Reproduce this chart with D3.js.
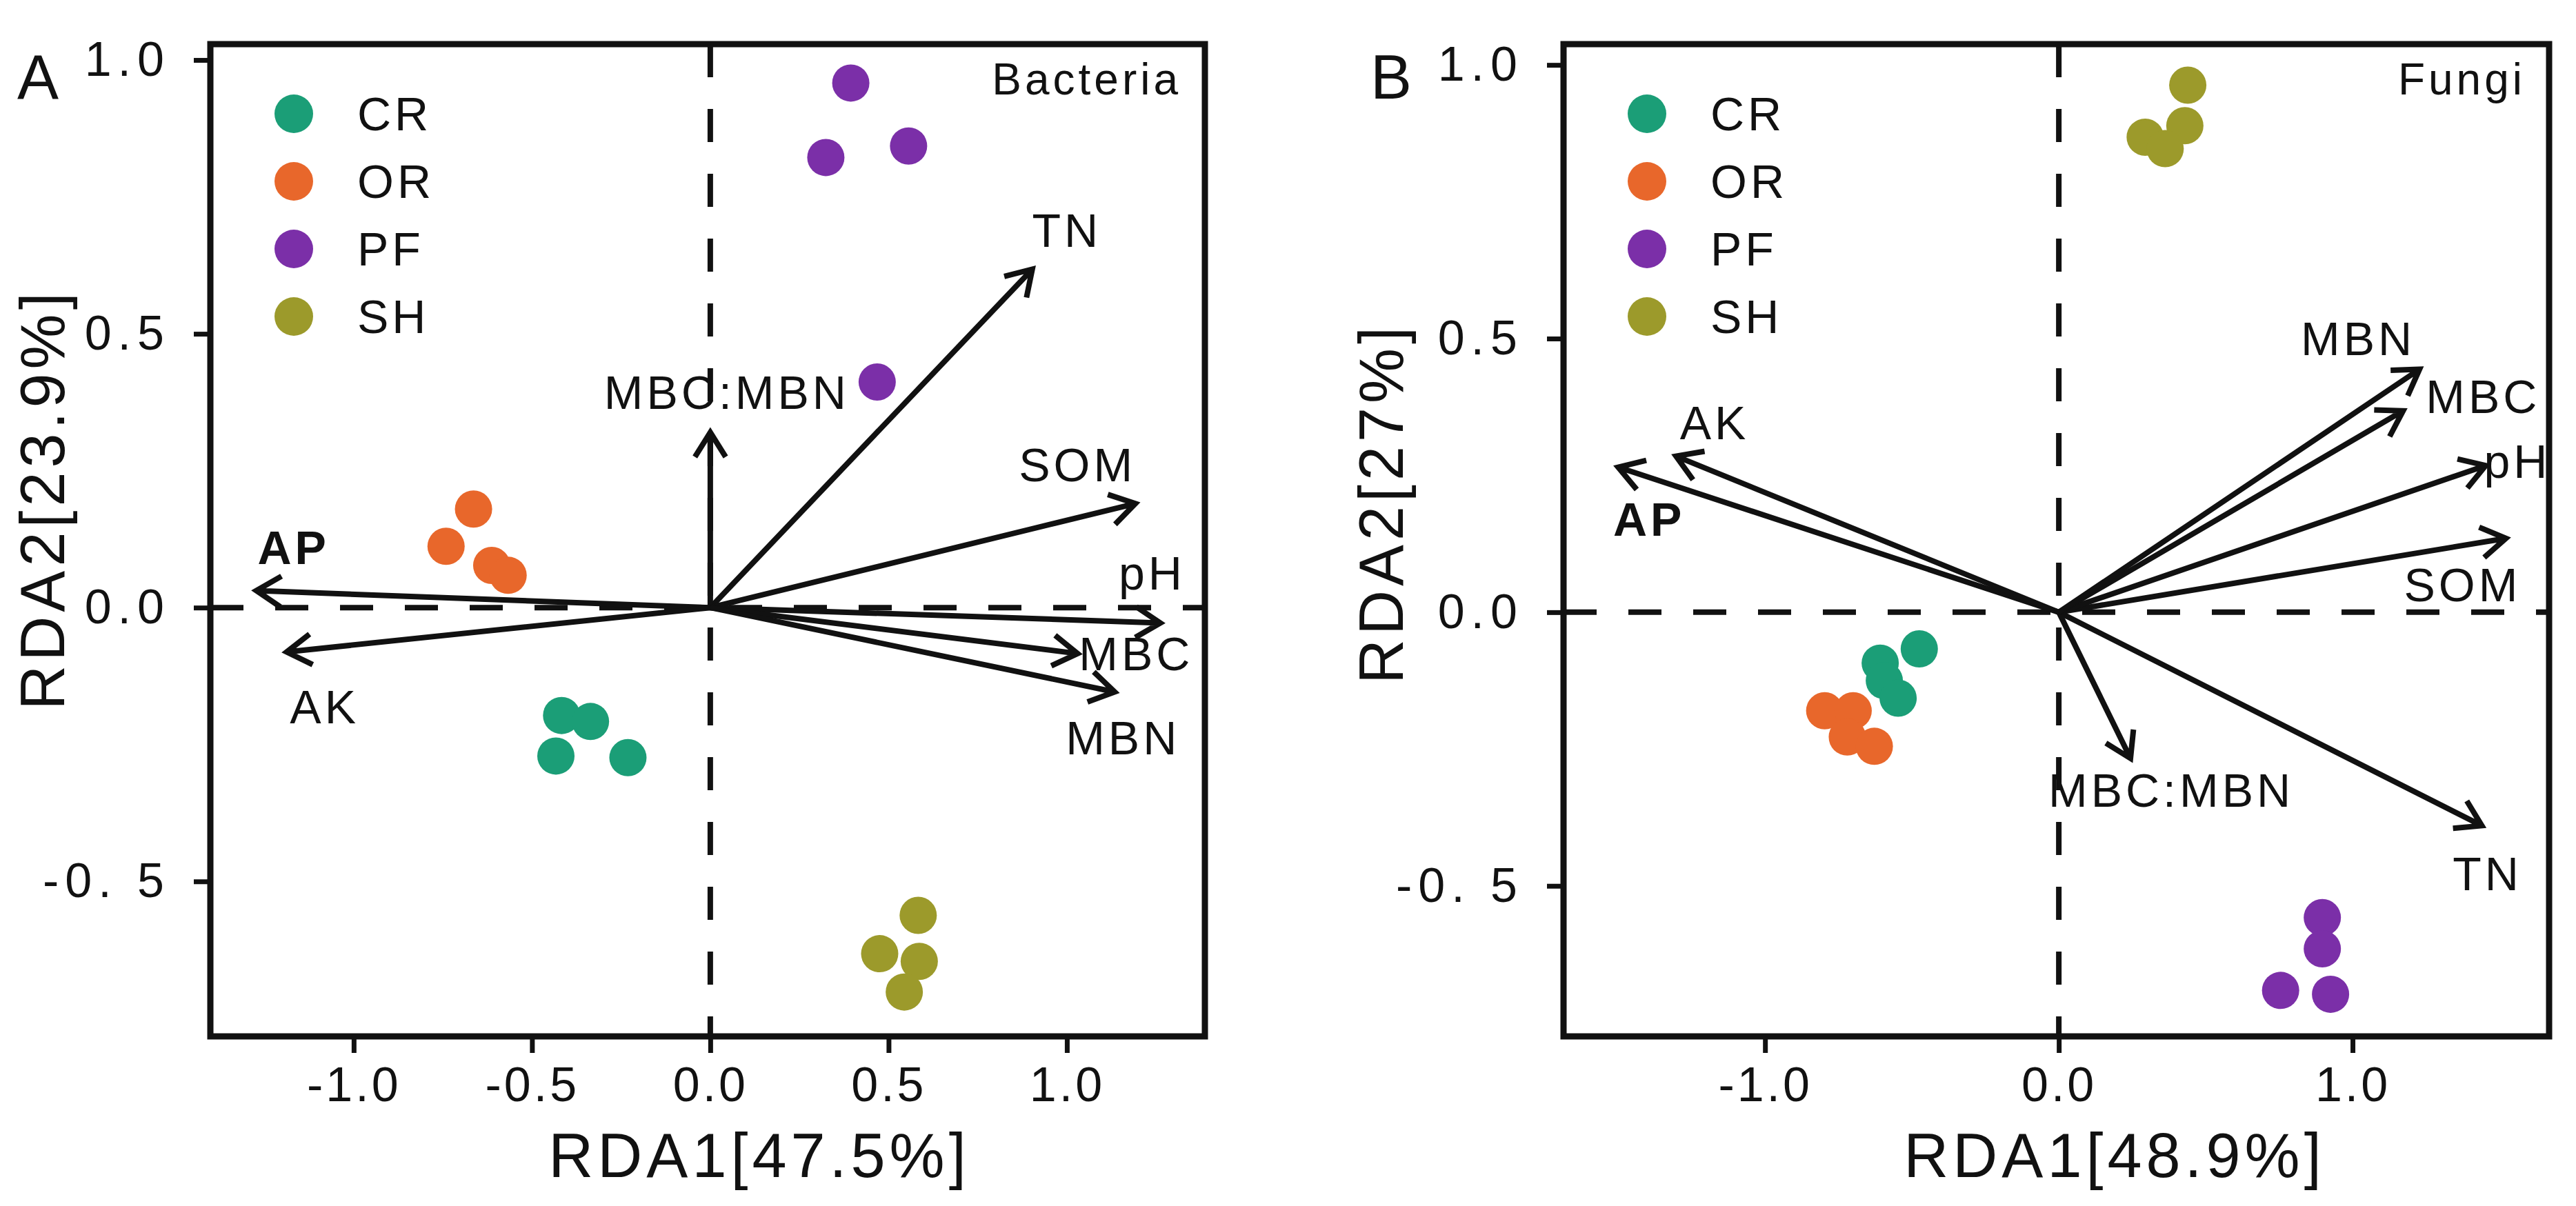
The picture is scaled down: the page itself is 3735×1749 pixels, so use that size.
<!DOCTYPE html>
<meta charset="utf-8">
<style>
  body { margin: 0; background: #fff; }
  text { font-family: "Liberation Sans", Arial, sans-serif; fill: #111; }
</style>
<svg width="3735" height="1749"></svg>
<script src="https://cdn.jsdelivr.net/npm/d3@7"></script>
<script>

    // ---- data ----
    var groups = ["CR", "OR", "PF", "SH"];
    var envNames = ["TN", "MBC:MBN", "SOM", "pH", "MBC", "MBN", "AP", "AK"];

    // bacteria (panel A) site scores
    var bacCR = [[-0.417, -0.197], [-0.336, -0.208], [-0.433, -0.271], [-0.231, -0.274]];
    var bacOR = [[-0.664, 0.180], [-0.741, 0.112], [-0.613, 0.077], [-0.567, 0.059]];
    var bacPF = [[0.394, 0.958], [0.324, 0.822], [0.556, 0.843], [0.468, 0.412]];
    var bacSH = [[0.583, -0.562], [0.475, -0.632], [0.586, -0.646], [0.544, -0.702]];
    // bacteria environmental arrows, same order as envNames
    var bacArrows = [[0.903, 0.618], [0, 0.32], [1.192, 0.19], [1.262, -0.028],
                     [1.03, -0.084], [1.134, -0.154], [-1.273, 0.031], [-1.188, -0.081]];

    // fungi (panel B) site scores
    var funCR = [[-0.475, -0.067], [-0.608, -0.093], [-0.594, -0.125], [-0.547, -0.157]];
    var funOR = [[-0.797, -0.180], [-0.700, -0.180], [-0.720, -0.228], [-0.628, -0.245]];
    var funPF = [[0.897, -0.558], [0.897, -0.615], [0.755, -0.691], [0.925, -0.698]];
    var funSH = [[0.439, 0.963], [0.429, 0.889], [0.294, 0.868], [0.362, 0.847]];
    var funArrows = [[1.44, -0.39], [0.244, -0.267], [1.522, 0.135], [1.453, 0.268],
                     [1.172, 0.368], [1.228, 0.444], [-1.5, 0.265], [-1.303, 0.285]];

    var xTicksA = [-1, -0.5, 0, 0.5, 1];
    var xTicksB = [-1, 0, 1];
    var yTicks = [-0.5, 0, 0.5, 1];

    var color = d3.scaleOrdinal()
        .domain(groups)
        .range(["#1b9e77", "#e8672b", "#7b2fa8", "#9c9a2b"]);

    var svg = d3.select("svg");

    // plain hyphen instead of d3's unicode minus
    function fmt(d) { return d.toFixed(1); }

    function drawPanel(p) {
        var x = d3.scaleLinear().domain(p.xDomain).range([p.left, p.right]);
        var y = d3.scaleLinear().domain(p.yDomain).range([p.bottom, p.top]);
        var g = svg.append("g");

        // zero lines
        g.append("line")
            .attr("x1", x(0)).attr("x2", x(0)).attr("y1", p.top).attr("y2", p.bottom)
            .attr("stroke", "#111").attr("stroke-width", 8).attr("stroke-dasharray", "48,46");
        g.append("line")
            .attr("x1", p.left).attr("x2", p.right).attr("y1", y(0)).attr("y2", y(0))
            .attr("stroke", "#111").attr("stroke-width", 8).attr("stroke-dasharray", "48,46");

        // axes
        var xAxis = g.append("g")
            .attr("transform", "translate(0," + p.bottom + ")")
            .call(d3.axisBottom(x).tickValues(p.xTicks).tickSize(24).tickSizeOuter(0)
                .tickFormat(fmt));
        xAxis.selectAll("text").attr("y", 94).attr("dy", null)
            .style("font-size", "70px").style("letter-spacing", "4px");
        var yAxis = g.append("g")
            .attr("transform", "translate(" + p.left + ",0)")
            .call(d3.axisLeft(y).tickValues(yTicks).tickSize(24).tickSizeOuter(0)
                .tickFormat(function(d) { return fmt(d).replace("-0.", "-0. "); }));
        yAxis.selectAll("text").attr("x", -58)
            .style("font-size", "70px").style("letter-spacing", "9px");
        svg.selectAll(".domain").remove();
        g.selectAll(".tick line").attr("stroke", "#111").attr("stroke-width", 7);
        g.selectAll(".tick text").attr("fill", "#111").attr("font-family", null);

        // frame
        g.append("rect")
            .attr("x", p.left).attr("y", p.top)
            .attr("width", p.right - p.left).attr("height", p.bottom - p.top)
            .attr("fill", "none").attr("stroke", "#111").attr("stroke-width", 9);

        // arrows
        var head = 42, ang = 32 * Math.PI / 180;
        p.arrows.forEach(function(a, i) {
            var x1 = x(a[0]), y1 = y(a[1]), x0 = x(0), y0 = y(0);
            var th = Math.atan2(y1 - y0, x1 - x0);
            var d = "M" + x0 + "," + y0 + "L" + x1 + "," + y1 +
                "M" + (x1 - head * Math.cos(th - ang)) + "," + (y1 - head * Math.sin(th - ang)) +
                "L" + x1 + "," + y1 +
                "L" + (x1 - head * Math.cos(th + ang)) + "," + (y1 - head * Math.sin(th + ang));
            g.append("path").attr("d", d)
                .attr("fill", "none").attr("stroke", "#111")
                .attr("stroke-width", 8).attr("stroke-linejoin", "miter");
            var off = p.labelOffsets[envNames[i]];
            g.append("text")
                .attr("x", x1 + off[0]).attr("y", y1 + off[1])
                .attr("text-anchor", "middle").attr("dominant-baseline", "central")
                .style("font-size", "68px").style("letter-spacing", "5px")
                .style("font-weight", envNames[i] === "AP" ? "bold" : "normal")
                .text(envNames[i]);
        });

        // sites
        groups.forEach(function(gr, k) {
            g.selectAll(null).data(p.sites[k]).enter().append("circle")
                .attr("cx", function(d) { return x(d[0]); })
                .attr("cy", function(d) { return y(d[1]); })
                .attr("r", 27)
                .attr("fill", color(gr));
        });

        // legend
        var leg = g.append("g").attr("transform", "translate(" + p.left + "," + p.top + ")");
        groups.forEach(function(gr, k) {
            leg.append("circle").attr("cx", 121).attr("cy", 101 + k * 98).attr("r", 28)
                .attr("fill", color(gr));
            leg.append("text").attr("x", 213).attr("y", 101 + k * 98)
                .attr("dominant-baseline", "central")
                .style("font-size", "68px").style("letter-spacing", "5px")
                .text(gr);
        });

        // annotations
        g.append("text").attr("x", p.right - 34).attr("y", p.top + 51)
            .attr("text-anchor", "end").attr("dominant-baseline", "central")
            .style("font-size", "64px").style("letter-spacing", "5px")
            .text(p.name);
        g.append("text").attr("x", p.left - 250).attr("y", 112)
            .attr("text-anchor", "middle").attr("dominant-baseline", "central")
            .style("font-size", "90px")
            .text(p.letter);
        g.append("text").attr("x", p.xTitleX).attr("y", 1707)
            .attr("text-anchor", "middle")
            .style("font-size", "90px").style("letter-spacing", "6px")
            .text(p.xTitle);
        g.append("text")
            .attr("transform", "translate(" + p.yTitleX + "," + p.yTitleY + ") rotate(-90)")
            .attr("text-anchor", "middle").attr("dominant-baseline", "central")
            .style("font-size", "90px").style("letter-spacing", "6px")
            .text(p.yTitle);
    }

    drawPanel({
        letter: "A", name: "Bacteria",
        left: 305, right: 1747, top: 64, bottom: 1503,
        xDomain: [-1.402, 1.387], yDomain: [-0.783, 1.029],
        xTicks: xTicksA,
        sites: [bacCR, bacOR, bacPF, bacSH],
        arrows: bacArrows,
        labelOffsets: {
            "TN": [50, -56], "MBC:MBN": [24, -58], "SOM": [-84, -56], "pH": [-12, -72],
            "MBC": [85, 0], "MBN": [12, 67], "AP": [54, -63], "AK": [55, 79]
        },
        xTitle: "RDA1[47.5%]", xTitleX: 1101,
        yTitle: "RDA2[23.9%]", yTitleX: 62, yTitleY: 724
    });

    drawPanel({
        letter: "B", name: "Fungi",
        left: 2267, right: 3696, top: 64, bottom: 1503,
        xDomain: [-1.686, 1.669], yDomain: [-0.775, 1.038],
        xTicks: xTicksB,
        sites: [funCR, funOR, funPF, funSH],
        arrows: funArrows,
        labelOffsets: {
            "TN": [8, 70], "MBC:MBN": [59, 46], "SOM": [-63, 67], "pH": [46, -6],
            "MBC": [116, -21], "MBN": [-89, -44], "AP": [45, 75], "AK": [56, -49]
        },
        xTitle: "RDA1[48.9%]", xTitleX: 3066,
        yTitle: "RDA2[27%]", yTitleX: 2003, yTitleY: 730
    });
</script>
